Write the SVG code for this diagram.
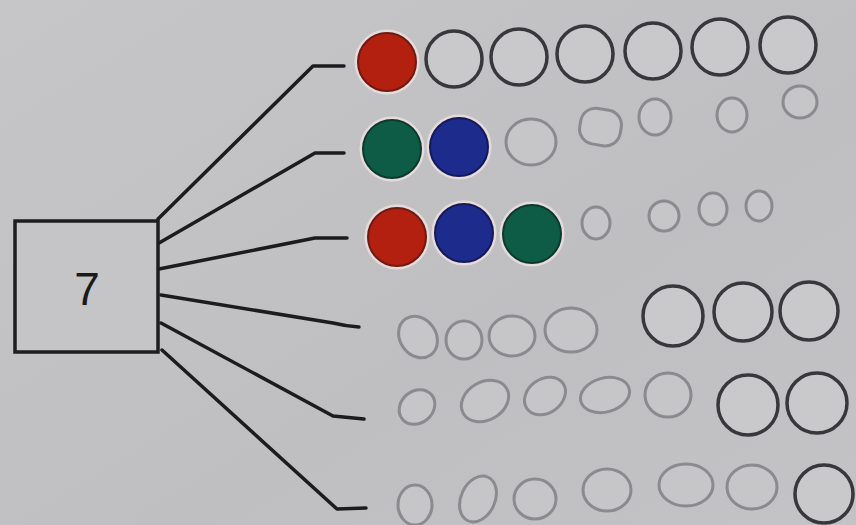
<svg xmlns="http://www.w3.org/2000/svg" width="856" height="525" viewBox="0 0 856 525">
<defs>
<linearGradient id="bg" x1="0" y1="0" x2="1" y2="1">
<stop offset="0" stop-color="#c6c6c8"/>
<stop offset="0.6" stop-color="#bfbfc2"/>
<stop offset="1" stop-color="#c3c3c5"/>
</linearGradient>
<style>
.line{fill:none;stroke:#1c1c1e;stroke-width:3.5;stroke-linejoin:round;stroke-linecap:round}
.box{fill:#c5c5c8;stroke:#1e1e20;stroke-width:3.5}
.dark{fill:#c9c9cc;stroke:#38383c;stroke-width:3.5}
.faint{fill:#c6c6c9;stroke:#8a8a8f;stroke-width:3}
.red{fill:#b3200f;stroke:#6e1a12;stroke-width:2}
.green{fill:#0f5c46;stroke:#0a3a2c;stroke-width:2}
.blue{fill:#1d2c8c;stroke:#14195a;stroke-width:2}
.halo{fill:none;stroke:#e6dada;stroke-width:3}
.num{font-family:"Liberation Sans",Arial,sans-serif;font-size:46px;fill:#1a1a1a;text-anchor:middle}
</style>
</defs>
<rect x="0" y="0" width="856" height="525" fill="url(#bg)"/>

<g id="connectors">
<polyline class="line" points="158,219 313,66 344,66"/>
<polyline class="line" points="159,243 315,153 344,153"/>
<polyline class="line" points="159,269 315,238 347,238"/>
<path class="line" d="M161,295 L333,323 Q345,326 359,327"/>
<polyline class="line" points="161,323 333,416 364,419"/>
<polyline class="line" points="162,350 337,509 366,508"/>
</g>

<g id="node-7">
<rect class="box" x="15" y="221" width="143" height="131"/>
<text class="num" x="87" y="305">7</text>
</g>

<g id="row1">
<circle class="halo" cx="387" cy="62" r="31"/>
<circle class="red" cx="387" cy="62" r="29"/>
<circle class="dark" cx="454" cy="59" r="28"/>
<circle class="dark" cx="519" cy="57" r="28"/>
<circle class="dark" cx="585" cy="54" r="28"/>
<circle class="dark" cx="653" cy="51" r="28"/>
<circle class="dark" cx="720" cy="47" r="28"/>
<circle class="dark" cx="788" cy="45" r="28"/>
</g>

<g id="row2">
<circle class="halo" cx="392" cy="149" r="31"/>
<circle class="green" cx="392" cy="149" r="29"/>
<circle class="halo" cx="459" cy="147" r="31"/>
<circle class="blue" cx="459" cy="147" r="29"/>
<ellipse class="faint" cx="531" cy="142" rx="25" ry="23"/>
<rect class="faint" x="580" y="109" width="41" height="36" rx="15" transform="rotate(10 600 127)"/>
<ellipse class="faint" cx="655" cy="117" rx="16" ry="18"/>
<ellipse class="faint" cx="732" cy="115" rx="15" ry="17"/>
<ellipse class="faint" cx="800" cy="102" rx="17" ry="16"/>
</g>

<g id="row3">
<circle class="halo" cx="397" cy="237" r="31"/>
<circle class="red" cx="397" cy="237" r="29"/>
<circle class="halo" cx="464" cy="233" r="31"/>
<circle class="blue" cx="464" cy="233" r="29"/>
<circle class="halo" cx="532" cy="234" r="31"/>
<circle class="green" cx="532" cy="234" r="29"/>
<ellipse class="faint" cx="596" cy="223" rx="14" ry="16"/>
<ellipse class="faint" cx="664" cy="216" rx="15" ry="15"/>
<ellipse class="faint" cx="713" cy="209" rx="14" ry="16"/>
<ellipse class="faint" cx="759" cy="206" rx="13" ry="15"/>
</g>

<g id="row4">
<ellipse class="faint" cx="418" cy="337" rx="18" ry="22" transform="rotate(-35 418 337)"/>
<ellipse class="faint" cx="464" cy="340" rx="18" ry="19"/>
<ellipse class="faint" cx="512" cy="336" rx="23" ry="20"/>
<ellipse class="faint" cx="571" cy="330" rx="26" ry="22"/>
<circle class="dark" cx="673" cy="316" r="30"/>
<circle class="dark" cx="743" cy="312" r="29"/>
<circle class="dark" cx="809" cy="311" r="29"/>
</g>

<g id="row5">
<ellipse class="faint" cx="417" cy="407" rx="19" ry="16" transform="rotate(-40 417 407)"/>
<ellipse class="faint" cx="485" cy="401" rx="25" ry="19" transform="rotate(-30 485 401)"/>
<ellipse class="faint" cx="545" cy="396" rx="22" ry="17" transform="rotate(-35 545 396)"/>
<ellipse class="faint" cx="605" cy="395" rx="25" ry="17" transform="rotate(-15 605 395)"/>
<ellipse class="faint" cx="668" cy="395" rx="23" ry="22"/>
<circle class="dark" cx="748" cy="405" r="30"/>
<circle class="dark" cx="817" cy="403" r="30"/>
</g>

<g id="row6">
<ellipse class="faint" cx="415" cy="505" rx="17" ry="20"/>
<ellipse class="faint" cx="478" cy="499" rx="17" ry="24" transform="rotate(25 478 499)"/>
<ellipse class="faint" cx="535" cy="499" rx="21" ry="20"/>
<ellipse class="faint" cx="607" cy="490" rx="24" ry="21"/>
<ellipse class="faint" cx="686" cy="485" rx="27" ry="21"/>
<ellipse class="faint" cx="752" cy="487" rx="25" ry="22"/>
<circle class="dark" cx="824" cy="494" r="29"/>
</g>
</svg>
